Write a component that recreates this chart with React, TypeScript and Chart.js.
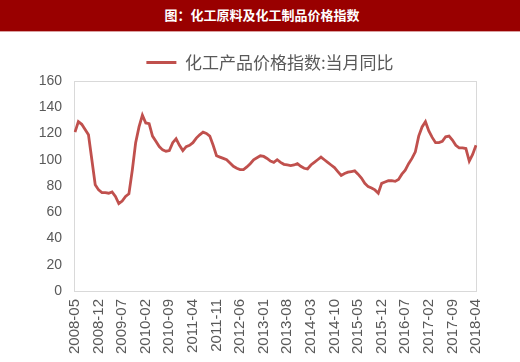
import React, { useEffect, useRef } from "react";
import { Chart, registerables } from "chart.js";

Chart.register(...registerables);

const titleText = "图：化工原料及化工制品价格指数";
const seriesName = "化工产品价格指数:当月同比";

const START_YEAR = 2008;
const START_MONTH = 5;
const MONTH_COUNT = 120;
const categories: string[] = Array.from({ length: MONTH_COUNT }, (_, i) => {
  const m = START_MONTH - 1 + i;
  const y = START_YEAR + Math.floor(m / 12);
  const mm = (m % 12) + 1;
  return `${y}-${String(mm).padStart(2, "0")}`;
});

const tickLabels: string[] = [
  "2008-05", "2008-12", "2009-07", "2010-02", "2010-09", "2011-04",
  "2011-11", "2012-06", "2013-01", "2013-08", "2014-03", "2014-10",
  "2015-05", "2015-12", "2016-07", "2017-02", "2017-09", "2018-04",
];

const seriesValues: number[] = [
  121, 129, 127, 123, 119, 100, 81, 77, 75, 75,
  74.5, 75.5, 72, 66.5, 68.5, 72, 74, 92, 113, 125,
  134, 128, 127.5, 118, 114, 110, 107.5, 106.5, 107, 113,
  116, 111, 107, 110, 111, 113, 116.5, 119, 121, 120,
  118, 111, 103, 102, 101, 100, 97.5, 95, 93.5, 92.5,
  92.5, 94.5, 97, 100, 101.5, 103, 102.5, 101, 99, 98,
  100, 98, 96.5, 96, 95.5, 96, 97, 95, 93.5, 93,
  96, 98, 100, 102, 100, 98, 96, 94, 91, 88,
  89.5, 90.5, 91, 91.5, 89, 86, 82, 79.5, 78.5, 77,
  74.5, 82, 83, 84, 84, 83.5, 85, 89, 92, 97,
  101, 106, 118, 125, 129, 122, 117, 113, 113, 114,
  117.5, 118, 115, 111, 109, 109, 108.5, 99, 104, 111,
];

const Y_MIN = 0;
const Y_MAX = 160;
const Y_STEP = 20;

const LINE_COLOR = "#C0504D";
const TEXT_COLOR = "#595959";
const LEGEND_SHIFT = 17;

export default function App() {
  const ref = useRef<HTMLCanvasElement>(null);

  useEffect(() => {
    const frame = {
      id: "frame",
      beforeDatasetsDraw(chart: any) {
        const { ctx, chartArea: a } = chart;
        ctx.save();
        ctx.strokeStyle = "#D9D9D9";
        ctx.lineWidth = 1;
        ctx.strokeRect(
          Math.round(a.left) - 0.5,
          Math.round(a.top) + 0.5,
          Math.round(a.right - a.left) + 1,
          Math.round(a.bottom - a.top)
        );
        ctx.restore();
      },
    };
    const legendShift = {
      id: "legendShift",
      afterLayout(chart: any) {
        const lg = chart.legend;
        if (lg) {
          lg.left += LEGEND_SHIFT;
          lg.right += LEGEND_SHIFT;
        }
      },
    };

    Chart.defaults.font.family = "'Liberation Sans', Arial, sans-serif";

    const chart = new Chart(ref.current!, {
      type: "line",
      data: {
        labels: categories,
        datasets: [
          {
            label: seriesName,
            data: seriesValues,
            borderColor: LINE_COLOR,
            backgroundColor: LINE_COLOR,
            borderWidth: 2.8,
            pointRadius: 0,
            tension: 0,
            fill: false,
          },
        ],
      },
      options: {
        responsive: false,
        maintainAspectRatio: false,
        animation: false,
        layout: { padding: { left: 30, right: 44, top: 12, bottom: 0 } },
        plugins: {
          legend: {
            position: "top",
            labels: {
              boxWidth: 30,
              boxHeight: 3,
              padding: 10,
              color: TEXT_COLOR,
              font: { family: "'Noto Sans CJK SC'", size: 17 },
              generateLabels: (c: any) =>
                (Chart.defaults.plugins.legend.labels as any)
                  .generateLabels(c)
                  .map((l: any) => ({ ...l, lineWidth: 0 })),
            },
          },
          tooltip: { enabled: false },
        },
        scales: {
          x: {
            grid: { display: false, drawTicks: false },
            border: { display: false },
            ticks: {
              autoSkip: false,
              maxRotation: 90,
              minRotation: 90,
              padding: 8,
              color: TEXT_COLOR,
              font: { size: 15 },
              callback: (_v: any, i: number) =>
                tickLabels.includes(categories[i]) ? categories[i] : "",
            },
          },
          y: {
            min: Y_MIN,
            max: Y_MAX,
            grid: { display: false, drawTicks: false },
            border: { display: false },
            ticks: {
              stepSize: Y_STEP,
              padding: 13,
              color: TEXT_COLOR,
              font: { size: 14 },
            },
            afterFit: (s: any) => {
              s.width = 45;
            },
          },
        },
      },
      plugins: [frame, legendShift],
    } as any);
    return () => chart.destroy();
  }, []);

  return (
    <div
      style={{
        position: "absolute",
        left: 0,
        top: 0,
        width: 520,
        height: 362,
        background: "#fff",
        overflow: "hidden",
      }}
    >
      <div
        style={{
          height: 32,
          boxSizing: "border-box",
          background: "#990000",
          borderBottom: "1px solid #D9A0A0",
          color: "#fff",
          fontFamily: "'Noto Sans CJK SC', sans-serif",
          fontWeight: 700,
          fontSize: 13,
          lineHeight: "30px",
          textAlign: "center",
          paddingLeft: 4,
        }}
      >
        {titleText}
      </div>
      <canvas
        ref={ref}
        width={520}
        height={330}
        style={{ display: "block", width: 520, height: 330 }}
      />
    </div>
  );
}
